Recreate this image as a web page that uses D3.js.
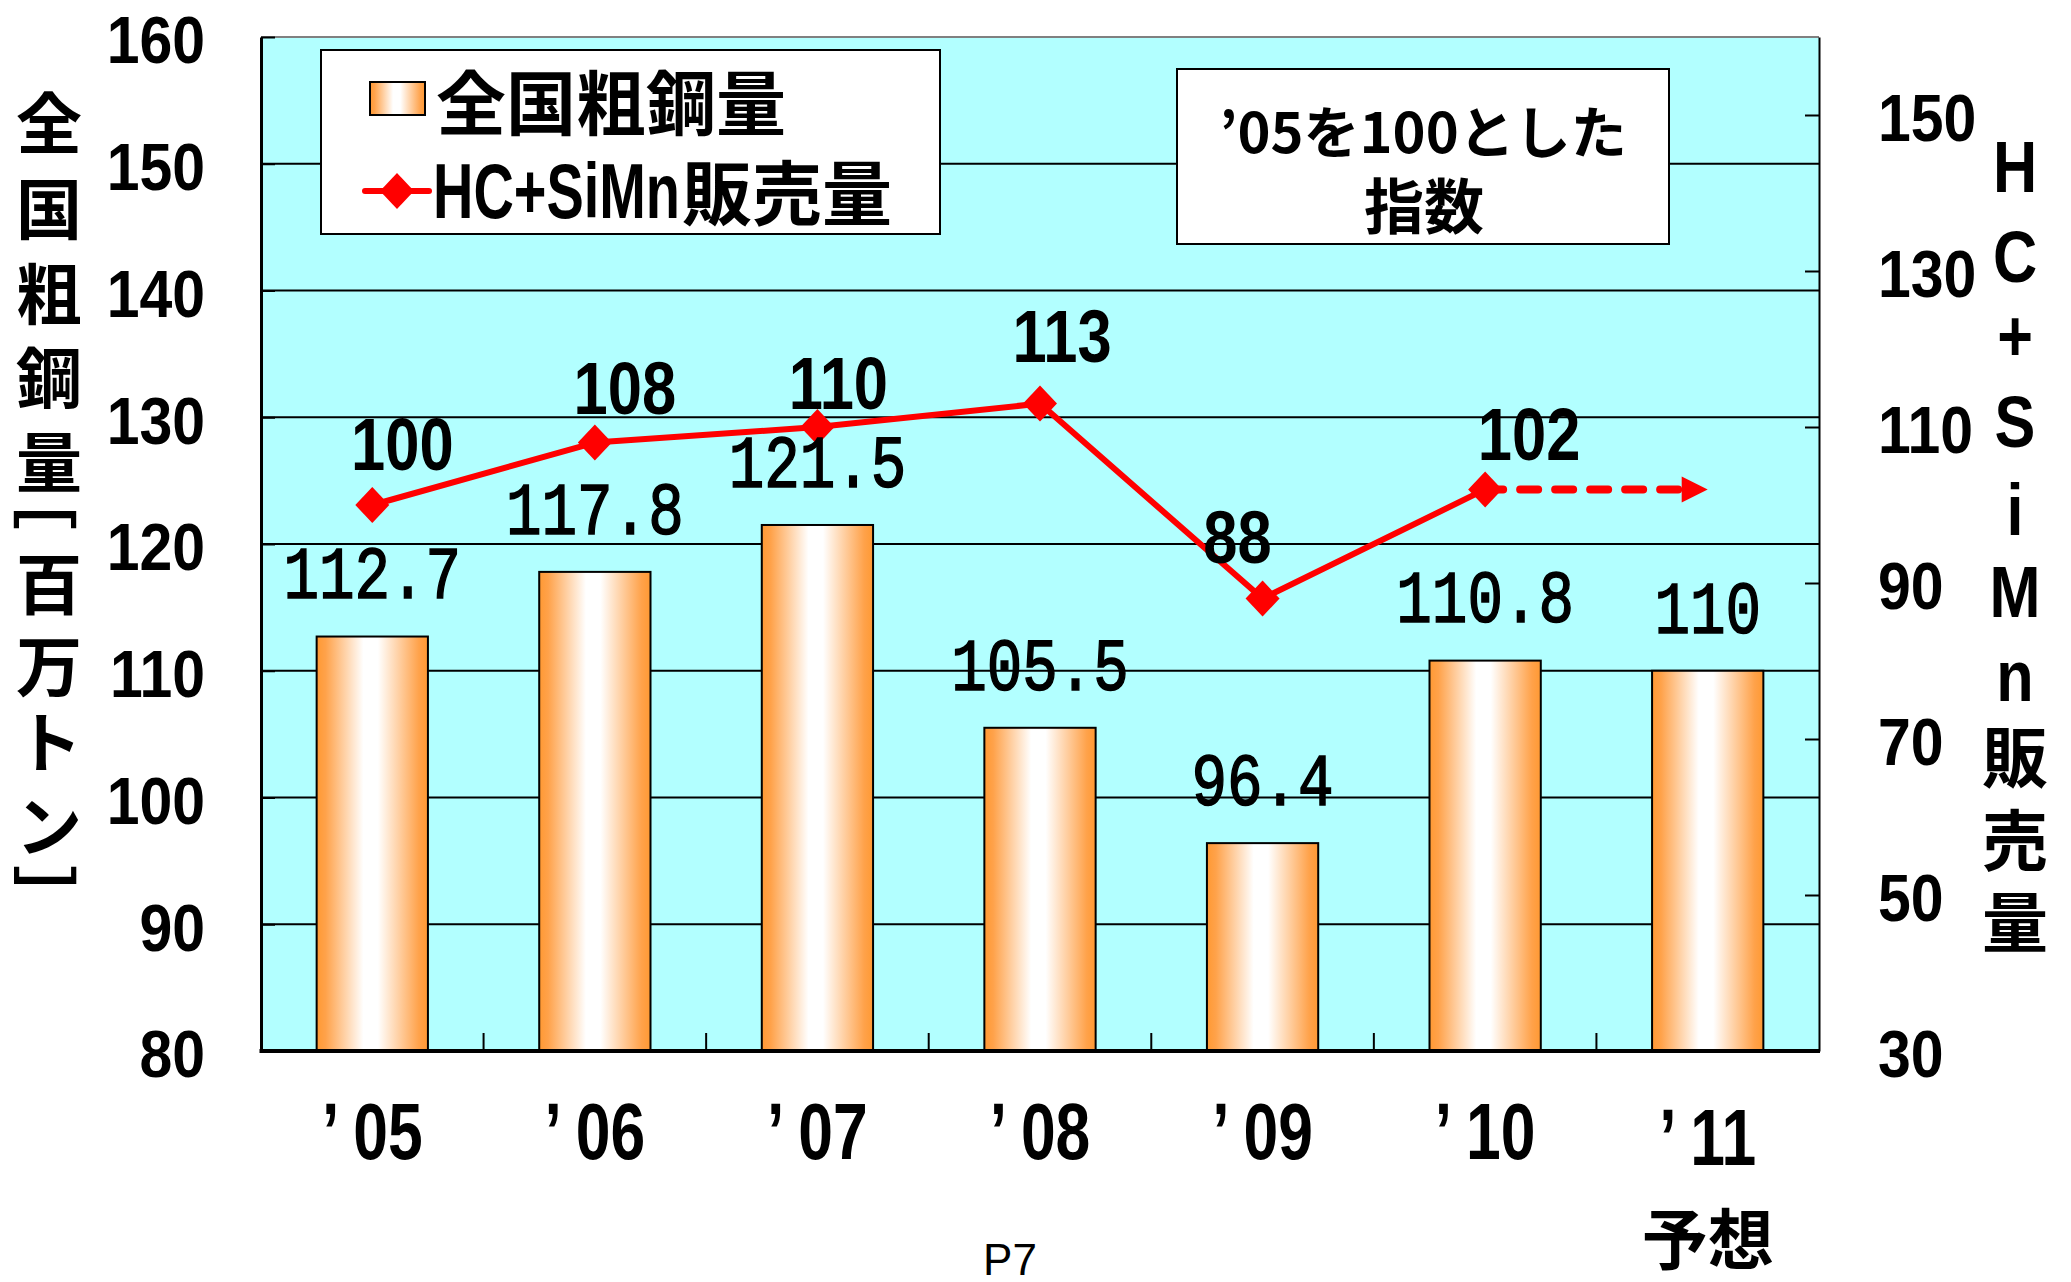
<!DOCTYPE html>
<html>
<head>
<meta charset="utf-8">
<script src="https://cdn.jsdelivr.net/npm/d3@7"></script>
<style>
  body { margin: 0; background: #fff; }
  svg { display: block; }
  .cjk { font-family: "Noto Sans CJK JP", sans-serif; font-weight: 700; }
  .num { font-family: "Liberation Sans", Arial, sans-serif; font-weight: 700; }
  .mono { font-family: "Liberation Mono", "DejaVu Sans Mono", monospace; font-weight: 400; stroke: #000; stroke-width: 1.6px; }
</style>
</head>
<body>
<svg id="chart" width="2071" height="1282"></svg>
<script>
// data
const categories = ["’05", "’06", "’07", "’08", "’09", "’10", "’11"];
const steelOutput = [112.7, 117.8, 121.5, 105.5, 96.4, 110.8, 110];
const steelLabels = ["112.7", "117.8", "121.5", "105.5", "96.4", "110.8", "110"];
const hcSiMnIndex = [100, 108, 110, 113, 88, 102, null];
const forecastIndex = [null, null, null, null, null, 102, 102];
const leftTicks = [80, 90, 100, 110, 120, 130, 140, 150, 160];
const rightTicks = [30, 50, 70, 90, 110, 130, 150];

// where each index label sits relative to its point
const labelNudge = [[30, -61], [30, -54], [21, -44], [22, -67], [-25, -61], [44, -55]];

const margin = { top: 37, right: 252, bottom: 231, left: 261 };
const W = 2071, H = 1282;
const plotW = W - margin.left - margin.right;
const plotB = H - margin.bottom;

const svg = d3.select("#chart");

const x = d3.scaleBand()
  .domain(categories)
  .range([margin.left, W - margin.right])
  .paddingInner(0.5)
  .paddingOuter(0.25);

const yL = d3.scaleLinear().domain([80, 160]).range([plotB, margin.top]);
const yR = d3.scaleLinear().domain([30, 160]).range([plotB, margin.top]);

const cx = i => x(categories[i]) + x.bandwidth() / 2;

// bar gradient, orange edges -> white middle
const defs = svg.append("defs");
const grad = defs.append("linearGradient").attr("id", "barGrad")
  .attr("x1", "0%").attr("x2", "100%").attr("y1", "0%").attr("y2", "0%");
[[0, "#FF9933"], [0.08, "#FFA24A"], [0.42, "#FFFFFF"], [0.55, "#FFFFFF"], [0.92, "#FFA24A"], [1, "#FF9933"]]
  .forEach(s => grad.append("stop").attr("offset", s[0]).attr("stop-color", s[1]));

// scaled text helper (narrow look)
function txt(g, xx, yy, str, size, sx, anchor, cls) {
  return g.append("text")
    .attr("class", cls || "num")
    .attr("transform", `translate(${xx},${yy}) scale(${sx},1)`)
    .attr("text-anchor", anchor || "middle")
    .attr("dominant-baseline", "central")
    .attr("font-size", size)
    .text(str);
}

// plot background
svg.append("rect")
  .attr("x", margin.left).attr("y", margin.top)
  .attr("width", plotW).attr("height", plotB - margin.top)
  .attr("fill", "#B2FFFF");

// gridlines
svg.append("g").selectAll("line")
  .data(leftTicks.filter(v => v > 80 && v < 160))
  .enter().append("line")
  .attr("x1", margin.left).attr("x2", W - margin.right)
  .attr("y1", d => yL(d)).attr("y2", d => yL(d))
  .attr("stroke", "#000").attr("stroke-width", 2);

svg.append("line")
  .attr("x1", margin.left).attr("x2", W - margin.right)
  .attr("y1", yL(160)).attr("y2", yL(160))
  .attr("stroke", "#808080").attr("stroke-width", 2);

// bars
svg.append("g").selectAll("rect")
  .data(steelOutput)
  .enter().append("rect")
  .attr("x", (d, i) => x(categories[i]))
  .attr("y", d => yL(d))
  .attr("width", x.bandwidth())
  .attr("height", d => plotB - yL(d))
  .attr("fill", "url(#barGrad)")
  .attr("stroke", "#000").attr("stroke-width", 2);

// axes (ticks only, labels drawn separately)
svg.append("g")
  .attr("transform", `translate(${margin.left},0)`)
  .call(d3.axisLeft(yL).tickValues(leftTicks).tickSizeInner(-14).tickSizeOuter(0).tickFormat(""))
  .call(g => g.select(".domain").attr("stroke-width", 3))
  .call(g => g.selectAll(".tick line").attr("stroke-width", 2));

svg.append("g")
  .attr("transform", `translate(${W - margin.right},0)`)
  .call(d3.axisRight(yR).tickValues(rightTicks.filter(v => v > 30)).tickSizeInner(-14).tickSizeOuter(0).tickFormat(""))
  .call(g => g.select(".domain").attr("stroke-width", 2))
  .call(g => g.selectAll(".tick line").attr("stroke-width", 2));

// category boundary ticks on x axis
const step = x.step();
const gap = (step - x.bandwidth()) / 2;
svg.append("g").selectAll("line")
  .data(categories.slice(1))
  .enter().append("line")
  .attr("x1", d => x(d) - gap).attr("x2", d => x(d) - gap)
  .attr("y1", plotB).attr("y2", plotB - 18)
  .attr("stroke", "#000").attr("stroke-width", 2);

svg.append("line")
  .attr("x1", margin.left - 1.5).attr("x2", W - margin.right + 1)
  .attr("y1", plotB).attr("y2", plotB)
  .attr("stroke", "#000").attr("stroke-width", 4);

// index line
const line = d3.line()
  .defined(d => d != null)
  .x((d, i) => cx(i))
  .y(d => yR(d));

const fLast = forecastIndex.length - 1;
const arrowLen = 26;
const dashLine = d3.line()
  .defined(d => d != null)
  .x((d, i) => i === fLast ? cx(i) - arrowLen : cx(i))
  .y(d => yR(d));

svg.append("path")
  .datum(forecastIndex)
  .attr("d", dashLine)
  .attr("fill", "none")
  .attr("stroke", "#FF0000").attr("stroke-width", 8)
  .attr("stroke-linecap", "round")
  .attr("stroke-dasharray", "18,17");

const tipX = cx(fLast), tipY = yR(forecastIndex[fLast]);
svg.append("path")
  .attr("d", `M${tipX},${tipY} L${tipX - arrowLen},${tipY - 13} L${tipX - arrowLen},${tipY + 13} Z`)
  .attr("fill", "#FF0000");

svg.append("path")
  .datum(hcSiMnIndex)
  .attr("d", line)
  .attr("fill", "none")
  .attr("stroke", "#FF0000").attr("stroke-width", 6)
  .attr("stroke-linejoin", "round");

const diamond = "M0,-18L17,0L0,18L-17,0Z";
svg.append("g").selectAll("path")
  .data(hcSiMnIndex.map((v, i) => ({ v, i })).filter(d => d.v != null))
  .enter().append("path")
  .attr("d", diamond)
  .attr("transform", d => `translate(${cx(d.i)},${yR(d.v)})`)
  .attr("fill", "#FF0000");

// index labels
const labels = svg.append("g");
hcSiMnIndex.forEach((v, i) => {
  if (v == null) return;
  txt(labels, cx(i) + labelNudge[i][0], yR(v) + labelNudge[i][1], String(v), 75, 0.82);
});

// bar value labels
steelOutput.forEach((v, i) => {
  txt(labels, cx(i), yL(v) - 58, steelLabels[i], 74, 0.8, "middle", "mono");
});

// left tick labels
leftTicks.forEach(v => txt(labels, 205, yL(v) + 3, String(v), 67, 0.88, "end"));
// right tick labels
rightTicks.forEach(v => txt(labels, 1878, yR(v) + 3, String(v), 67, 0.88, "start"));

// category labels
categories.forEach((c, i) => {
  txt(labels, cx(i), 1131 + (i === fLast ? 6 : 0), c.replace("’", "’ "), 80, 0.78);
});
labels.append("text").attr("class", "cjk")
  .attr("x", cx(fLast)).attr("y", 1235)
  .attr("text-anchor", "middle").attr("dominant-baseline", "central")
  .attr("font-size", 66).text("予想");

// left axis title, vertical
const leftTitle = ["全", "国", "粗", "鋼", "量", "［", "百", "万", "ト", "ン", "］"];
const leftTitleY = [119, 205, 290, 374, 458, 497, 580, 662, 738, 822, 898];
leftTitle.forEach((ch, i) => {
  const t = svg.append("text").attr("class", "cjk")
    .attr("x", 49).attr("y", leftTitleY[i])
    .attr("text-anchor", "middle").attr("dominant-baseline", "central")
    .attr("font-size", 66).text(ch);
  if (ch === "［" || ch === "］") t.attr("transform", `rotate(90,49,${leftTitleY[i]})`);
});

// right axis title, vertical
const rightTitle = ["H", "C", "+", "S", "i", "M", "n", "販", "売", "量"];
const rightTitleY = [165, 255, 334, 420, 508, 590, 674, 753, 836, 918];
rightTitle.forEach((ch, i) => {
  if (i < 7) {
    txt(svg, 2015, rightTitleY[i] + 2, ch, 72, 0.85);
  } else {
    svg.append("text").attr("class", "cjk")
      .attr("x", 2015).attr("y", rightTitleY[i])
      .attr("text-anchor", "middle").attr("dominant-baseline", "central")
      .attr("font-size", 66).text(ch);
  }
});

// legend
const lg = svg.append("g");
lg.append("rect").attr("x", 321).attr("y", 50).attr("width", 619).attr("height", 184)
  .attr("fill", "#fff").attr("stroke", "#000").attr("stroke-width", 2);
lg.append("rect").attr("x", 370).attr("y", 82).attr("width", 55).attr("height", 33)
  .attr("fill", "url(#barGrad)").attr("stroke", "#000").attr("stroke-width", 2);
lg.append("text").attr("class", "cjk")
  .attr("x", 436).attr("y", 99).attr("dominant-baseline", "central")
  .attr("font-size", 70).text("全国粗鋼量");
lg.append("line").attr("x1", 365).attr("x2", 429).attr("y1", 191).attr("y2", 191)
  .attr("stroke", "#FF0000").attr("stroke-width", 6).attr("stroke-linecap", "round");
lg.append("path").attr("d", diamond).attr("transform", "translate(397,191)").attr("fill", "#FF0000");
txt(lg, 433, 191, "HC+SiMn", 78, 0.717, "start");
lg.append("text").attr("class", "cjk")
  .attr("x", 682).attr("y", 189).attr("dominant-baseline", "central")
  .attr("font-size", 70).text("販売量");

// note box
const nb = svg.append("g");
nb.append("rect").attr("x", 1177).attr("y", 69).attr("width", 492).attr("height", 175)
  .attr("fill", "#fff").attr("stroke", "#000").attr("stroke-width", 2);
nb.append("text").attr("class", "cjk")
  .attr("x", 1423).attr("y", 128).attr("text-anchor", "middle").attr("dominant-baseline", "central")
  .attr("font-size", 56).text("’05を100とした");
nb.append("text").attr("class", "cjk")
  .attr("x", 1424).attr("y", 202).attr("text-anchor", "middle").attr("dominant-baseline", "central")
  .attr("font-size", 60).text("指数");

// page marker
svg.append("text")
  .attr("x", 1010).attr("y", 1275)
  .attr("text-anchor", "middle")
  .attr("font-family", "Liberation Sans, Arial, sans-serif")
  .attr("font-size", 44)
  .text("P7");
</script>
</body>
</html>
